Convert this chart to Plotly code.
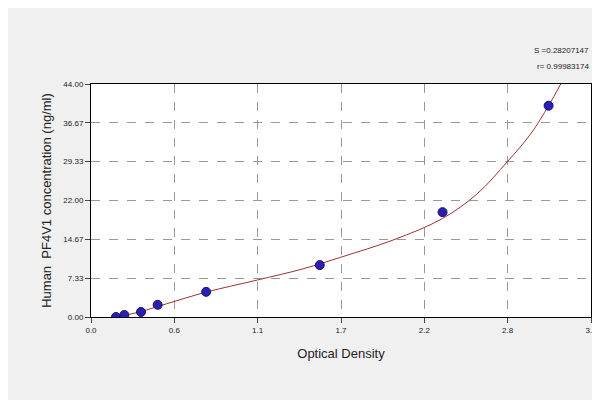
import plotly.graph_objects as go

od = [0.165, 0.22, 0.33, 0.44, 0.76, 1.51, 2.32, 3.02]
conc = [0.0, 0.38, 0.95, 2.3, 4.75, 9.8, 19.8, 39.9]

curve_x = [0.16, 0.3, 0.5, 0.76, 1.1, 1.4, 1.65, 2.0, 2.32, 2.55, 2.75, 2.9, 3.02, 3.1]
curve_y = [0.0, 0.8, 2.5, 4.7, 7.0, 9.1, 11.3, 14.6, 18.6, 23.3, 29.4, 34.5, 39.9, 44.0]

xticks = [0, 0.55, 1.1, 1.65, 2.2, 2.75, 3.3]
xlabels = ["0.0", "0.6", "1.1", "1.7", "2.2", "2.8", "3.3"]
yticks = [0, 7.33, 14.67, 22.0, 29.33, 36.67, 44.0]
ylabels = ["0.00", "7.33", "14.67", "22.00", "29.33", "36.67", "44.00"]

fig = go.Figure()
fig.add_trace(go.Scatter(x=curve_x, y=curve_y, mode="lines", line=dict(color="#a03030", width=1, shape="spline"), hoverinfo="skip"))
fig.add_trace(go.Scatter(x=od, y=conc, mode="markers", marker=dict(color="#2a1fb0", size=9, line=dict(color="#1a1070", width=1))))

fig.update_layout(
    width=600, height=400, showlegend=False,
    paper_bgcolor="#f0f0f0", plot_bgcolor="white",
    margin=dict(l=83, r=17, t=76, b=91),
    font=dict(family="Liberation Sans, Arial", color="#222"),
    annotations=[
        dict(x=1, y=1.17, xref="paper", yref="paper", xanchor="right", showarrow=False,
             text="S =0.28207147", font=dict(size=8)),
        dict(x=1, y=1.105, xref="paper", yref="paper", xanchor="right", showarrow=False,
             text="r= 0.99983174", font=dict(size=8)),
    ],
)
fig.update_xaxes(range=[0, 3.3], tickvals=xticks, ticktext=xlabels, tickfont=dict(size=8),
                 showgrid=True, gridcolor="#999", griddash="dash", zeroline=False,
                 showline=True, linecolor="black", mirror=True, ticks="outside",
                 title=dict(text="Optical Density", font=dict(size=13)))
fig.update_yaxes(range=[0, 44], tickvals=yticks, ticktext=ylabels, tickfont=dict(size=8),
                 showgrid=True, gridcolor="#999", griddash="dash", zeroline=False,
                 showline=True, linecolor="black", mirror=True, ticks="outside",
                 title=dict(text="Human  PF4V1 concentration (ng/ml)", font=dict(size=13), standoff=8))
fig.write_html("out.html")
